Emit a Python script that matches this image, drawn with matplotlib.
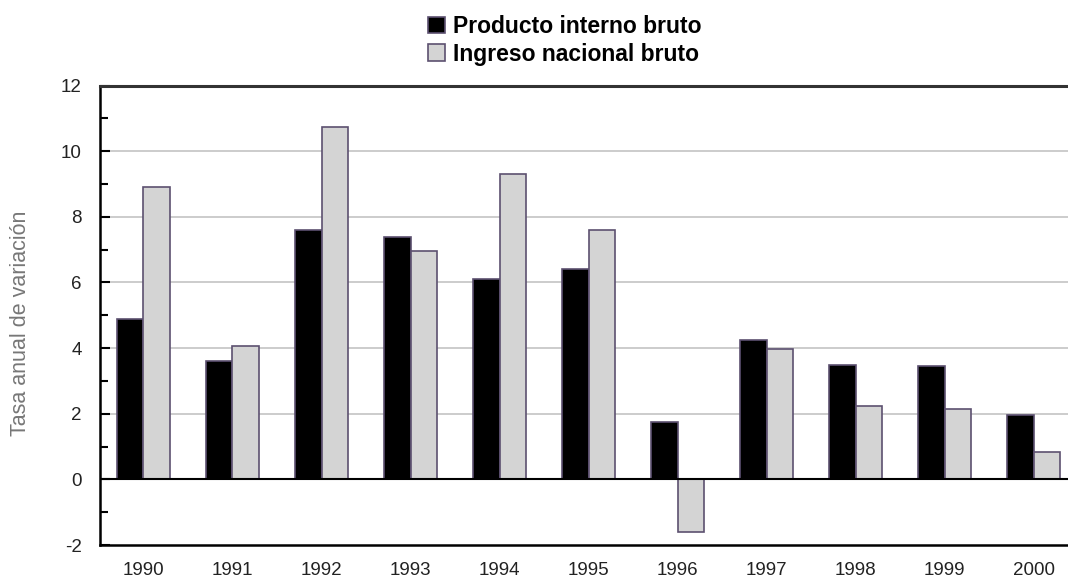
import numpy as np
import matplotlib.pyplot as plt
from matplotlib.ticker import MultipleLocator

plt.rcParams['font.family'] = ['Liberation Sans', 'DejaVu Sans']
plt.rcParams['axes.unicode_minus'] = False

# Data
years = ['1990', '1991', '1992', '1993', '1994', '1995', '1996', '1997', '1998', '1999', '2000']
pib = [4.9, 3.6, 7.6, 7.4, 6.1, 6.4, 1.75, 4.25, 3.5, 3.45, 1.95]
inb = [8.9, 4.05, 10.75, 6.95, 9.3, 7.6, -1.6, 3.97, 2.25, 2.15, 0.82]

x = np.arange(len(years))
w = 0.3
edge = '#5c5070'

fig = plt.figure(figsize=(10.68, 5.78), dpi=100)
ax = fig.add_axes([0.0935, 0.057, 0.916, 0.795])

ax.bar(x - w / 2, pib, w, color='black', edgecolor=edge, linewidth=1.2,
       label='Producto interno bruto', zorder=3)
ax.bar(x + w / 2, inb, w, color='#d4d4d4', edgecolor=edge, linewidth=1.2,
       label='Ingreso nacional bruto', zorder=3)

ax.set_xlim(-0.49, 10.5)
ax.set_ylim(-2, 12)
ax.yaxis.set_major_locator(MultipleLocator(2))
ax.yaxis.set_minor_locator(MultipleLocator(1))
ax.tick_params(axis='y', which='major', direction='in', length=7, width=1.5,
               labelsize=13.5, labelcolor='#222222', pad=13)
ax.tick_params(axis='y', which='minor', direction='in', length=6, width=1.5)
ax.set_xticks(x)
ax.set_xticklabels(years)
ax.tick_params(axis='x', length=0, labelsize=13.5, labelcolor='#222222', pad=12)

for yv in [2, 4, 6, 8, 10]:
    ax.axhline(yv, color='#c4c4c4', linewidth=1.2, zorder=1)
ax.axhline(0, color='black', linewidth=1.5, zorder=4)

for s in ['left', 'bottom']:
    ax.spines[s].set_linewidth(1.8)
    ax.spines[s].set_color('black')
ax.spines['top'].set_linewidth(2.2)
ax.spines['top'].set_color('#333333')
ax.spines['right'].set_visible(False)

fig.text(0.019, 1 - 323 / 578, 'Tasa anual de variación', rotation=90,
         va='center', ha='center', fontsize=15.5, color='#777777')

leg = fig.legend(loc='upper left', bbox_to_anchor=(0.392, 0.99), frameon=False,
                 prop={'weight': 'bold', 'size': 16.5}, handlelength=0.75,
                 handleheight=0.75, handletextpad=0.35, labelspacing=0.2,
                 borderaxespad=0)

plt.savefig('out.png', dpi=100)
